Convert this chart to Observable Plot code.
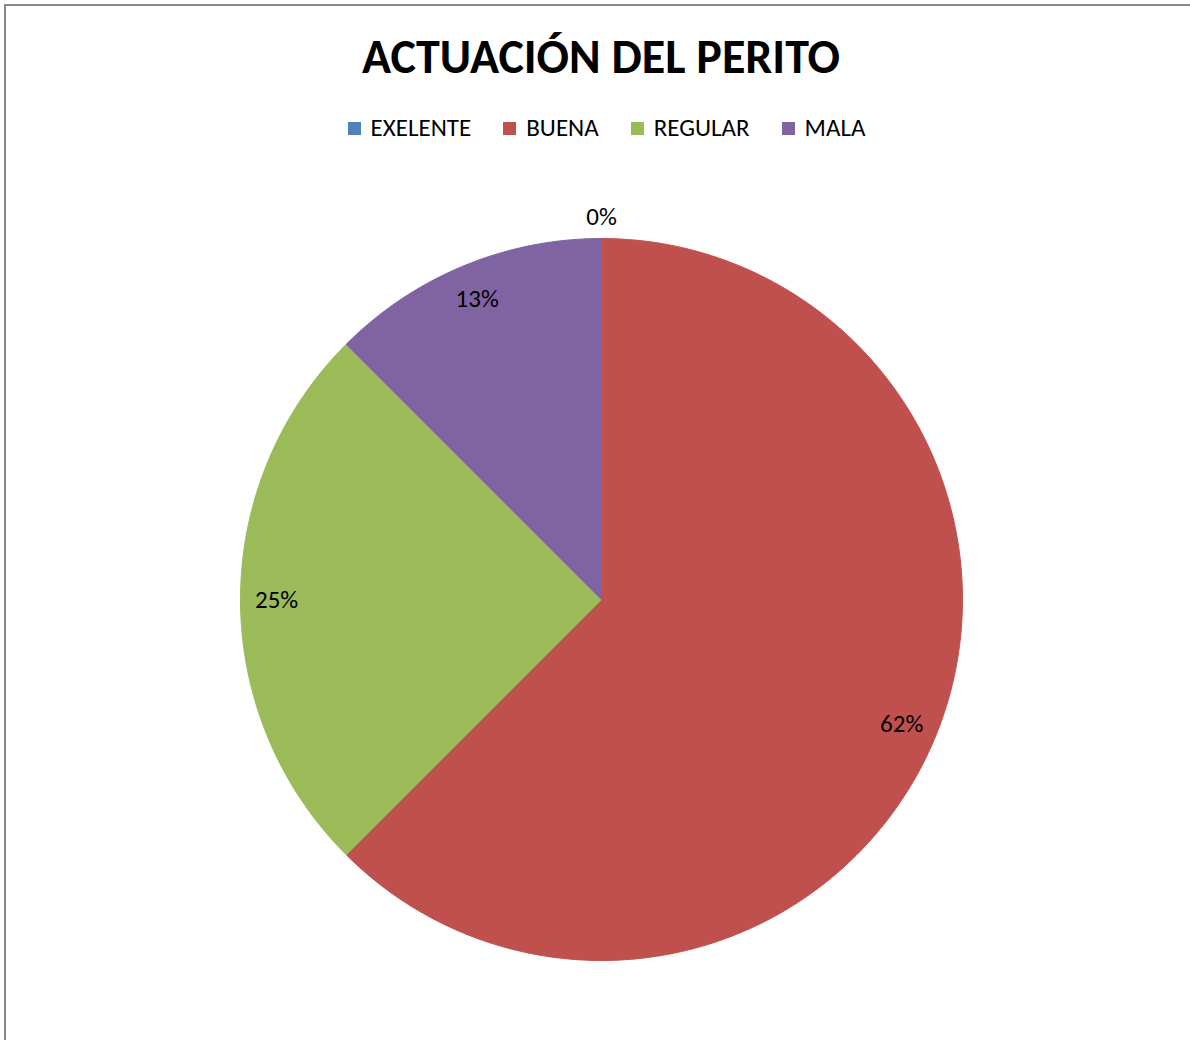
<!DOCTYPE html>
<html>
<head>
<meta charset="utf-8">
<script src="https://cdn.jsdelivr.net/npm/d3@7"></script>
<script src="https://cdn.jsdelivr.net/npm/@observablehq/plot@0.6"></script>
<style>
  html, body { margin: 0; padding: 0; background: #fff; }
  #frame {
    position: relative; width: 1190px; height: 1040px; overflow: hidden;
    font-family: Carlito, Calibri, Lato, "Open Sans", sans-serif;
  }
  #border {
    position: absolute; left: 4px; top: 4px; right: -10px; bottom: -10px;
    border-left: 2px solid #878787; border-top: 2px solid #878787;
  }
  #title {
    position: absolute; left: 0; width: 1202px; top: 27px; text-align: center;
    font-size: 48px; font-weight: bold; color: #000; line-height: 60px;
  }
  #legend {
    position: absolute; left: 0; width: 1213px; top: 113px; display: flex;
    justify-content: center; gap: 32px; font-size: 25px; line-height: 30px; color: #000;
  }
  .item { display: flex; align-items: center; gap: 10px; }
  .sw { width: 13px; height: 13px; display: inline-block; }
  #chart { position: absolute; left: 0; top: 160px; }
</style>
</head>
<body>
<div id="frame">
  <div id="border"></div>
  <div id="title"></div>
  <div id="legend"></div>
  <div id="chart"></div>
</div>
<script>
const title = "ACTUACIÓN DEL PERITO";
const categories = ["EXELENTE", "BUENA", "REGULAR", "MALA"];
const values = [0, 5, 2, 1];
const percentLabels = ["0%", "62%", "25%", "13%"];
const colors = ["#4F81BD", "#C0504D", "#9BBB59", "#8064A2"];

document.getElementById("title").textContent = title;
const legend = document.getElementById("legend");
categories.forEach((c, i) => {
  const it = document.createElement("div");
  it.className = "item";
  const sw = document.createElement("span");
  sw.className = "sw";
  sw.style.background = colors[i];
  const tx = document.createElement("span");
  tx.textContent = c;
  it.appendChild(sw); it.appendChild(tx);
  legend.appendChild(it);
});

const pie = d3.pie().sort(null).value(d => d.value)(
  categories.map((c, i) => ({category: c, value: values[i], label: percentLabels[i]}))
);

// wedge outlines in unit coordinates (angle 0 at top, clockwise)
const wedges = [];
pie.forEach(p => {
  const c = p.data.category;
  wedges.push({category: c, x: 0, y: 0});
  const n = Math.max(2, Math.ceil((p.endAngle - p.startAngle) / 0.01));
  for (let k = 0; k <= n; k++) {
    const a = p.startAngle + (p.endAngle - p.startAngle) * k / n;
    wedges.push({category: c, x: Math.sin(a), y: Math.cos(a)});
  }
  wedges.push({category: c, x: 0, y: 0});
});

const labels = pie.map(p => {
  const a = (p.startAngle + p.endAngle) / 2;
  const r = p.data.value === 0 ? 1.06 : 0.9;
  return {x: Math.sin(a) * r, y: Math.cos(a) * r, text: p.data.label};
});

const plot = Plot.plot({
  width: 1190, height: 880,
  marginLeft: 240, marginRight: 228, marginTop: 78, marginBottom: 80,
  x: {domain: [-1, 1], axis: null},
  y: {domain: [-1, 1], axis: null},
  color: {domain: categories, range: colors},
  style: {fontFamily: "Carlito, Calibri, Lato, 'Open Sans', sans-serif", background: "transparent"},
  marks: [
    Plot.line(wedges, {x: "x", y: "y", z: "category", fill: "category", stroke: "category", strokeWidth: 1, curve: "linear"}),
    Plot.text(labels, {x: "x", y: "y", text: "text", fontSize: 25, fill: "#000"})
  ]
});
document.getElementById("chart").appendChild(plot);
</script>
</body>
</html>
